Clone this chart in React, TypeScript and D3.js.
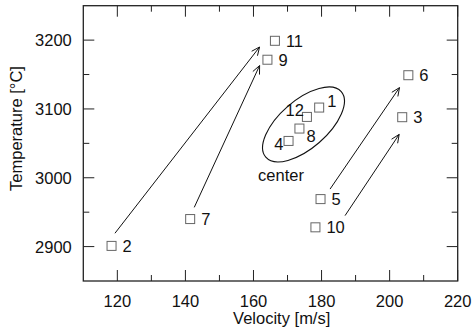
import React from "react";
import * as d3 from "d3";

const pointIds = ["1", "2", "3", "4", "5", "6", "7", "8", "9", "10", "11", "12"];
const velocity = [179.3, 118.3, 203.7, 170.3, 179.7, 205.5, 141.4, 173.5, 164.1, 178.2, 166.3, 175.7];
const temperature = [3102, 2901, 3088, 3053.5, 2969, 3149, 2940, 3071.5, 3171.5, 2928, 3199, 3088.4];

const arrowFromV = [119.3, 142.6, 182.5, 186.9];
const arrowFromT = [2919.4, 2957, 2983.6, 2945];
const arrowToV = [161.8, 161.8, 202.9, 202.8];
const arrowToT = [3190, 3163, 3131, 3063];

const xTicks = [120, 140, 160, 180, 200, 220];
const xMinorTicks = [130, 150, 170, 190, 210];
const yTicks = [2900, 3000, 3100, 3200];
const yMinorTicks = [2950, 3050, 3150];

const ellipseCenterV = 174.7;
const ellipseCenterT = 3077.5;
const centerLabelV = 168.1;
const centerLabelT = 2995;

// label placement (pixels relative to marker centre)
const labelPlacement: Record<string, { dx: number; dy: number; anchor: string }> = {
  "1": { dx: 8, dy: -1, anchor: "start" },
  "12": { dx: -3, dy: -1, anchor: "end" },
  "8": { dx: 7, dy: 13, anchor: "start" },
  "4": { dx: -5, dy: 9, anchor: "end" },
};

const W = 472;
const H = 335;
const L = 83.3, R = 457.7, T = 5.7, B = 281;
const FONT = "'Liberation Sans', Arial, sans-serif";
const FS = 16.5;

export default function App() {
  const x = d3.scaleLinear().domain([110, 220]).range([L, R]);
  const y = d3.scaleLinear().domain([2850, 3250]).range([B, T]);
  const axisColor = "#222";
  const major = 11;
  const minor = 6;

  const arrowHead = (x1: number, y1: number, x2: number, y2: number) => {
    const ang = Math.atan2(y2 - y1, x2 - x1);
    const len = 9;
    const spread = (24 * Math.PI) / 180;
    const p1 = [x2 - len * Math.cos(ang - spread), y2 - len * Math.sin(ang - spread)];
    const p2 = [x2 - len * Math.cos(ang + spread), y2 - len * Math.sin(ang + spread)];
    return `M${p1[0]},${p1[1]}L${x2},${y2}L${p2[0]},${p2[1]}`;
  };

  return (
    <svg width={W} height={H} style={{ position: "absolute", left: 0, top: 0, background: "#fff" }} fontFamily={FONT}>
      <rect x={0} y={0} width={W} height={H} fill="#fff" />
      {/* ticks */}
      {xTicks.map((t) => (
        <g key={"xt" + t}>
          <line x1={x(t)} x2={x(t)} y1={B} y2={B - major} stroke={axisColor} strokeWidth={1} />
          <line x1={x(t)} x2={x(t)} y1={T} y2={T + major} stroke={axisColor} strokeWidth={1} />
          <text x={x(t)} y={B + 26} textAnchor="middle" fontSize={FS} fill="#111">{t}</text>
        </g>
      ))}
      {xMinorTicks.map((t) => (
        <g key={"xm" + t}>
          <line x1={x(t)} x2={x(t)} y1={B} y2={B - minor} stroke={axisColor} strokeWidth={1} />
          <line x1={x(t)} x2={x(t)} y1={T} y2={T + minor} stroke={axisColor} strokeWidth={1} />
        </g>
      ))}
      {yTicks.map((t) => (
        <g key={"yt" + t}>
          <line x1={L} x2={L + major} y1={y(t)} y2={y(t)} stroke={axisColor} strokeWidth={1} />
          <line x1={R} x2={R - major} y1={y(t)} y2={y(t)} stroke={axisColor} strokeWidth={1} />
          <text x={L - 11.5} y={y(t)} dy="0.36em" textAnchor="end" fontSize={FS} fill="#111">{t}</text>
        </g>
      ))}
      {yMinorTicks.map((t) => (
        <g key={"ym" + t}>
          <line x1={L} x2={L + minor} y1={y(t)} y2={y(t)} stroke={axisColor} strokeWidth={1} />
          <line x1={R} x2={R - minor} y1={y(t)} y2={y(t)} stroke={axisColor} strokeWidth={1} />
        </g>
      ))}
      {/* frame */}
      <rect x={L} y={T} width={R - L} height={B - T} fill="none" stroke={axisColor} strokeWidth={1.3} />

      {/* axis titles */}
      <text x={281.7} y={324} textAnchor="middle" fontSize={FS} fill="#111">Velocity [m/s]</text>
      <text transform={`translate(21.5,128.5) rotate(-90)`} textAnchor="middle" fontSize={FS} fill="#111">Temperature [°C]</text>

      {/* arrows */}
      {arrowFromV.map((v, i) => {
        const x1 = x(v), y1 = y(arrowFromT[i]), x2 = x(arrowToV[i]), y2 = y(arrowToT[i]);
        return (
          <g key={"ar" + i}>
            <line x1={x1} y1={y1} x2={x2} y2={y2} stroke="#111" strokeWidth={1} />
            <path d={arrowHead(x1, y1, x2, y2)} fill="none" stroke="#111" strokeWidth={1} />
          </g>
        );
      })}

      {/* ellipse */}
      <ellipse
        cx={0}
        cy={0}
        rx={50}
        ry={24}
        transform={`translate(${x(ellipseCenterV)},${y(ellipseCenterT)}) rotate(-41)`}
        fill="none"
        stroke="#111"
        strokeWidth={1.1}
      />
      <text x={x(centerLabelV)} y={y(centerLabelT)} textAnchor="middle" fontSize={FS} fill="#111">center</text>

      {/* points */}
      {pointIds.map((id, i) => {
        const cx = x(velocity[i]);
        const cy = y(temperature[i]);
        const pl = labelPlacement[id] || { dx: 11, dy: 6, anchor: "start" };
        return (
          <g key={"p" + id}>
            <rect x={cx - 4.5} y={cy - 4.5} width={9} height={9} fill="#fff" stroke="#666" strokeWidth={1} />
            <text x={cx + pl.dx} y={cy + pl.dy} textAnchor={pl.anchor as any} fontSize={FS} fill="#111">{id}</text>
          </g>
        );
      })}
    </svg>
  );
}
